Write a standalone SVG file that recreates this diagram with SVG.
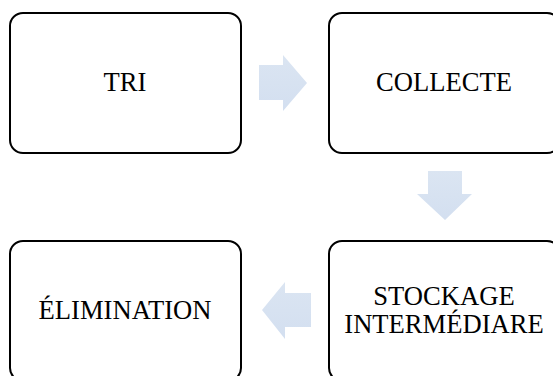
<svg xmlns="http://www.w3.org/2000/svg" width="553" height="376" viewBox="0 0 553 376">
<defs>
<linearGradient id="g" x1="0" y1="0" x2="0" y2="1">
<stop offset="0" stop-color="#dbe5f2"/>
<stop offset="1" stop-color="#d3dff0"/>
</linearGradient>
<style>
.box{fill:#fff;stroke:#000;stroke-width:2}
.t{font-family:"Liberation Serif","Times New Roman",serif;font-size:26.6px;fill:#000;text-anchor:middle}
.arr{fill:url(#g)}
</style>
</defs>
<rect width="553" height="376" fill="#fff"/>
<g id="connectors">
<path class="arr" d="M259,65 H283 V55 L307,83 L283,111 V100 H259 Z"/>
<path class="arr" d="M428,171 H462 V194 H472 L445,220 L417,194 H428 Z"/>
<path class="arr" d="M311,293 H285 V282 L262,310 L285,339 V327 H311 Z"/>
</g>
<g id="tri">
<rect class="box" x="10" y="13" width="231" height="140" rx="13"/>
<text class="t" x="125" y="91">TRI</text>
</g>
<g id="collecte">
<rect class="box" x="329" y="13" width="231" height="140" rx="13"/>
<text class="t" x="444" y="91">COLLECTE</text>
</g>
<g id="stockage">
<rect class="box" x="329" y="241" width="231" height="140" rx="13"/>
<text class="t" x="444" y="305">STOCKAGE</text>
<text class="t" x="444" y="333">INTERMÉDIARE</text>
</g>
<g id="elimination">
<rect class="box" x="10" y="241" width="231" height="140" rx="13"/>
<text class="t" x="125" y="319">ÉLIMINATION</text>
</g>
</svg>
